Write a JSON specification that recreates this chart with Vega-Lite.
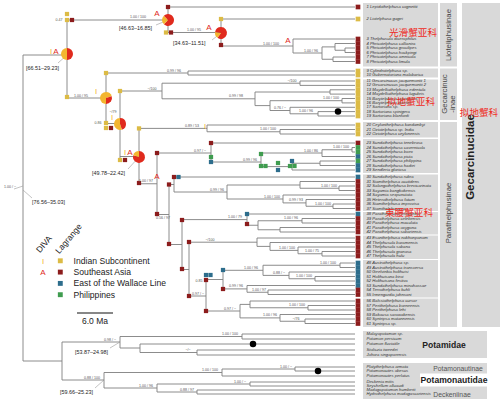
{
"$schema":"https://vega.github.io/schema/vega-lite/v6.json",
"width":500,"height":408,
"autosize":{"type":"fit","contains":"padding"},
"padding":0,
"background":"white",
"config":{"view":{"stroke":null},"font":"Liberation Sans"},
"datasets":{
"panels":[
{"x":363,"x2":438,"y":3,"y2":66.5},{"x":440,"x2":457,"y":3,"y2":66.5},
{"x":363,"x2":438,"y":68.5,"y2":77.5},{"x":363,"x2":438,"y":79.5,"y2":120},{"x":440,"x2":457,"y":68.5,"y2":120},
{"x":363,"x2":438,"y":122,"y2":137.5},{"x":363,"x2":438,"y":139,"y2":173},{"x":363,"x2":438,"y":174.5,"y2":211},
{"x":363,"x2":438,"y":212,"y2":234.5},{"x":363,"x2":438,"y":235.5,"y2":259},{"x":363,"x2":438,"y":260,"y2":297.5},
{"x":363,"x2":438,"y":298.5,"y2":327},{"x":440,"x2":457,"y":122,"y2":327},{"x":462,"x2":500,"y":3,"y2":327},
{"x":363,"x2":487,"y":331,"y2":358},{"x":363,"x2":487,"y":363,"y2":399}],
"white":[{"x":420,"x2":487,"y":373.5,"y2":386.5}],
"h":[
{"x":23,"x2":67,"y":55},{"x":67,"x2":168,"y":20},{"x":168,"x2":355,"y":7},{"x":168,"x2":221,"y":32.5},{"x":221,"x2":355,"y":19},{"x":221,"x2":293,"y":46},{"x":293,"x2":355,"y":39},{"x":293,"x2":322,"y":53},{"x":322,"x2":335,"y":46.9},{"x":335,"x2":355,"y":43.5},{"x":335,"x2":345,"y":50.25},{"x":345,"x2":355,"y":48},{"x":345,"x2":355,"y":52.5},{"x":322,"x2":333,"y":59.25},{"x":333,"x2":355,"y":57},{"x":333,"x2":355,"y":61.5},
{"x":67,"x2":106,"y":98},{"x":106,"x2":188,"y":73},{"x":188,"x2":355,"y":71},{"x":188,"x2":355,"y":75},{"x":106,"x2":120,"y":123.5},{"x":120,"x2":162,"y":91},{"x":162,"x2":300,"y":83.2},{"x":300,"x2":355,"y":81},{"x":300,"x2":355,"y":85.4},{"x":162,"x2":255,"y":98.8},{"x":255,"x2":330,"y":92},{"x":330,"x2":355,"y":89.8},{"x":330,"x2":355,"y":94.1},{"x":255,"x2":270,"y":105.6},{"x":270,"x2":342,"y":100.7},{"x":342,"x2":355,"y":98.5},{"x":342,"x2":355,"y":102.9},{"x":270,"x2":290,"y":110.5},{"x":290,"x2":355,"y":107.3},{"x":290,"x2":318,"y":113.8},{"x":318,"x2":355,"y":111.6},{"x":318,"x2":355,"y":116},
{"x":120,"x2":139,"y":156.5},{"x":139,"x2":207,"y":128.4},{"x":207,"x2":355,"y":125},{"x":207,"x2":280,"y":131.75},{"x":280,"x2":355,"y":129.5},{"x":280,"x2":355,"y":134},
{"x":139,"x2":157,"y":183.75},{"x":157,"x2":211,"y":153},{"x":211,"x2":355,"y":143},{"x":211,"x2":261,"y":162},{"x":261,"x2":322,"y":153},{"x":322,"x2":352,"y":149.75},{"x":352,"x2":355,"y":147.5},{"x":352,"x2":355,"y":152},{"x":322,"x2":355,"y":156.5},{"x":261,"x2":292,"y":166.6},{"x":292,"x2":320,"y":163.25},{"x":320,"x2":355,"y":161},{"x":320,"x2":355,"y":165.5},{"x":292,"x2":355,"y":170},
{"x":157,"x2":169,"y":214.5},{"x":169,"x2":174,"y":184.5},{"x":174,"x2":355,"y":177},{"x":174,"x2":227,"y":192},{"x":227,"x2":300,"y":185},{"x":300,"x2":355,"y":181.5},{"x":300,"x2":339,"y":188.25},{"x":339,"x2":355,"y":186},{"x":339,"x2":355,"y":190.5},{"x":227,"x2":283,"y":199},{"x":283,"x2":355,"y":195},{"x":283,"x2":306,"y":202.9},{"x":306,"x2":355,"y":199.5},{"x":306,"x2":333,"y":206.25},{"x":333,"x2":355,"y":204},{"x":333,"x2":355,"y":208.5},
{"x":169,"x2":182,"y":244.5},{"x":182,"x2":247,"y":219.6},{"x":247,"x2":355,"y":214},{"x":247,"x2":258,"y":225.25},{"x":258,"x2":302,"y":220.75},{"x":302,"x2":355,"y":218.5},{"x":302,"x2":355,"y":223},{"x":258,"x2":280,"y":229.75},{"x":280,"x2":355,"y":227.5},{"x":280,"x2":355,"y":232},
{"x":182,"x2":189,"y":269.5},{"x":189,"x2":257,"y":242.2},{"x":257,"x2":355,"y":238},{"x":257,"x2":270,"y":246.4},{"x":270,"x2":355,"y":242.5},{"x":270,"x2":298,"y":250.4},{"x":298,"x2":355,"y":247},{"x":298,"x2":322,"y":253.75},{"x":322,"x2":355,"y":251.5},{"x":322,"x2":355,"y":256},
{"x":189,"x2":206,"y":296},{"x":206,"x2":223,"y":279.5},{"x":223,"x2":263,"y":270.3},{"x":263,"x2":340,"y":265.25},{"x":340,"x2":355,"y":263},{"x":340,"x2":355,"y":267.5},{"x":263,"x2":289,"y":275.4},{"x":289,"x2":355,"y":272},{"x":289,"x2":315,"y":278.75},{"x":315,"x2":355,"y":276.5},{"x":315,"x2":355,"y":281},{"x":223,"x2":247,"y":288.9},{"x":247,"x2":355,"y":285.5},{"x":247,"x2":268,"y":292.25},{"x":268,"x2":355,"y":290},{"x":268,"x2":355,"y":294.5},
{"x":206,"x2":240,"y":311},{"x":240,"x2":250,"y":304.4},{"x":250,"x2":355,"y":301},{"x":250,"x2":308,"y":307.75},{"x":308,"x2":355,"y":305.5},{"x":308,"x2":355,"y":310},{"x":240,"x2":280,"y":317.9},{"x":280,"x2":355,"y":314.5},{"x":280,"x2":305,"y":321.25},{"x":305,"x2":355,"y":319},{"x":305,"x2":355,"y":323.5},
{"x":23,"x2":62,"y":361},{"x":62,"x2":120,"y":342},{"x":120,"x2":242,"y":336.5},{"x":242,"x2":355,"y":334},{"x":242,"x2":355,"y":339},{"x":120,"x2":140,"y":348},{"x":140,"x2":355,"y":344},{"x":140,"x2":197,"y":352.5},{"x":197,"x2":355,"y":350},{"x":197,"x2":355,"y":355},
{"x":62,"x2":104,"y":380},{"x":104,"x2":222,"y":372.5},{"x":222,"x2":295,"y":369},{"x":295,"x2":355,"y":367},{"x":295,"x2":355,"y":371},{"x":222,"x2":355,"y":376},{"x":104,"x2":157,"y":388},{"x":157,"x2":250,"y":384},{"x":250,"x2":355,"y":382},{"x":250,"x2":355,"y":386},{"x":157,"x2":197,"y":392},{"x":197,"x2":355,"y":390},{"x":197,"x2":355,"y":394}],
"v":[
{"x":23,"y":55,"y2":361},{"x":67,"y":20,"y2":98},{"x":168,"y":7,"y2":32.5},{"x":221,"y":19,"y2":46},{"x":293,"y":39,"y2":53},{"x":322,"y":46.9,"y2":59.25},{"x":335,"y":43.5,"y2":50.25},{"x":345,"y":48,"y2":52.5},{"x":333,"y":57,"y2":61.5},
{"x":106,"y":73,"y2":123.5},{"x":188,"y":71,"y2":75},{"x":120,"y":91,"y2":160},{"x":162,"y":83.2,"y2":98.8},{"x":300,"y":81,"y2":85.4},{"x":255,"y":92,"y2":105.6},{"x":330,"y":89.8,"y2":94.1},{"x":270,"y":100.7,"y2":110.5},{"x":342,"y":98.5,"y2":102.9},{"x":290,"y":107.3,"y2":113.8},{"x":318,"y":111.6,"y2":116},
{"x":139,"y":128.4,"y2":183.75},{"x":207,"y":125,"y2":131.75},{"x":280,"y":129.5,"y2":134},
{"x":157,"y":153,"y2":214.5},{"x":211,"y":143,"y2":162},{"x":261,"y":153,"y2":166.6},{"x":322,"y":149.75,"y2":156.5},{"x":352,"y":147.5,"y2":152},{"x":292,"y":163.25,"y2":170},{"x":320,"y":161,"y2":165.5},
{"x":169,"y":184.5,"y2":244.5},{"x":174,"y":177,"y2":192},{"x":227,"y":185,"y2":199},{"x":300,"y":181.5,"y2":188.25},{"x":339,"y":186,"y2":190.5},{"x":283,"y":195,"y2":202.9},{"x":306,"y":199.5,"y2":206.25},{"x":333,"y":204,"y2":208.5},
{"x":182,"y":219.6,"y2":269.5},{"x":247,"y":214,"y2":225.25},{"x":258,"y":220.75,"y2":229.75},{"x":302,"y":218.5,"y2":223},{"x":280,"y":227.5,"y2":232},
{"x":189,"y":242.2,"y2":296},{"x":257,"y":238,"y2":246.4},{"x":270,"y":242.5,"y2":250.4},{"x":298,"y":247,"y2":253.75},{"x":322,"y":251.5,"y2":256},
{"x":206,"y":279.5,"y2":311},{"x":223,"y":270.3,"y2":288.9},{"x":263,"y":265.25,"y2":275.4},{"x":340,"y":263,"y2":267.5},{"x":289,"y":272,"y2":278.75},{"x":315,"y":276.5,"y2":281},{"x":247,"y":285.5,"y2":292.25},{"x":268,"y":290,"y2":294.5},
{"x":240,"y":304.4,"y2":317.9},{"x":250,"y":301,"y2":307.75},{"x":308,"y":305.5,"y2":310},{"x":280,"y":314.5,"y2":321.25},{"x":305,"y":319,"y2":323.5},
{"x":62,"y":342,"y2":380},{"x":120,"y":336.5,"y2":348},{"x":242,"y":334,"y2":339},{"x":140,"y":344,"y2":352.5},{"x":197,"y":350,"y2":355},
{"x":104,"y":372.5,"y2":388},{"x":222,"y":369,"y2":376},{"x":295,"y":367,"y2":371},{"x":157,"y":384,"y2":392},{"x":250,"y":382,"y2":386},{"x":197,"y":390,"y2":394}],
"lead":[{"x":67,"x2":58,"y":55,"y2":63},{"x":168,"x2":156,"y":20,"y2":25},{"x":221,"x2":212,"y":33,"y2":40},{"x":139,"x2":128,"y":157,"y2":169},{"x":23,"x2":32,"y":190,"y2":198},{"x":120,"x2":110,"y":342,"y2":348},{"x":104,"x2":95,"y":380,"y2":388},{"x":23,"x2":14,"y":186,"y2":189}],
"tips":[
{"t":"1  Lepidothelphusa cognettii","y":7,"c":"S"},{"t":"2  Liotelphusa gagei","y":19,"c":"I"},{"t":"3  Thelphusula dicerophilus","y":39,"c":"S"},{"t":"4  Phricotelphusa callianira","y":43.5,"c":"S"},{"t":"5  Phricotelphusa gracilipes","y":48,"c":"S"},{"t":"6  Phricotelphusa hockpingi","y":52.5,"c":"S"},{"t":"7  Phricotelphusa amnicola","y":57,"c":"S"},{"t":"8  Phricotelphusa limula","y":61.5,"c":"S"},
{"t":"9  Cylindrotelphusa sp.","y":71,"c":"I"},{"t":"10 Gubernatoriana malabarica","y":75,"c":"I"},{"t":"11 Gecarcinucus jacquemontii 1","y":81,"c":"I"},{"t":"12 Gecarcinucus jacquemontii 2","y":85.4,"c":"I"},{"t":"13 Maydelliathelphusa edentula","y":89.8,"c":"I"},{"t":"14 Maydelliathelphusa lugubris","y":94.1,"c":"I"},{"t":"15 Barytelphusa cunicularis","y":98.5,"c":"I"},{"t":"16 Barytelphusa guerini","y":102.9,"c":"I"},{"t":"17 Sartoriana sp.","y":107.3,"c":"I"},{"t":"18 Sartoriana spinigera","y":111.6,"c":"I"},{"t":"19 Sartoriana blanfordi","y":116,"c":"I"},
{"t":"20 Ceylonthelphusa kandambyi","y":125,"c":"I"},{"t":"21 Oziotelphusa sp. India","y":129.5,"c":"I"},{"t":"22 Oziotelphusa ceylonensis","y":134,"c":"I"},
{"t":"23 Sundathelphusa tenebrosa","y":143,"c":"S"},{"t":"24 Sundathelphusa cavernicola","y":147.5,"c":"P"},{"t":"25 Sundathelphusa boex","y":152,"c":"P"},{"t":"26 Sundathelphusa picta","y":156.5,"c":"W"},{"t":"27 Sundathelphusa philippina","y":161,"c":"P"},{"t":"28 Sundathelphusa hadiei","y":165.5,"c":"W"},{"t":"29 Sendleria gloriosa","y":170,"c":"W"},
{"t":"30 Sundathelphusa rubra","y":177,"c":"W"},{"t":"31 Siamthelphusa acutidens","y":181.5,"c":"S"},{"t":"32 Salangathelphusa brevicarinata","y":186,"c":"S"},{"t":"33 Sayamia bangkokensis","y":190.5,"c":"S"},{"t":"34 Sayamia sexpunctata","y":195,"c":"S"},{"t":"35 Heterothelphusa fatum","y":199.5,"c":"S"},{"t":"36 Siamthelphusa improvisa","y":204,"c":"S"},{"t":"37 Siamthelphusa sp.","y":208.5,"c":"S"},
{"t":"38 Parathelphusa ferruginea","y":214,"c":"W"},{"t":"39 Parathelphusa celebensis","y":218.5,"c":"S"},{"t":"40 Parathelphusa maculata","y":223,"c":"S"},{"t":"41 Parathelphusa oxygona","y":227.5,"c":"S"},{"t":"42 Parathelphusa sabariensis","y":232,"c":"S"},
{"t":"43 Esanthelphusa nakhonpanom","y":238,"c":"S"},{"t":"44 Thelphusula baramensis","y":242.5,"c":"S"},{"t":"45 Thelphusula sabana","y":247,"c":"S"},{"t":"46 Thelphusula granosa","y":251.5,"c":"S"},{"t":"47 Thelphusula hulu","y":256,"c":"S"},
{"t":"48 Austrothelphusa sp.","y":263,"c":"W"},{"t":"49 Austrothelphusa transversa","y":267.5,"c":"W"},{"t":"50 Geelvinkia holthuisi","y":272,"c":"W"},{"t":"51 Holthuisana biroi","y":276.5,"c":"W"},{"t":"52 Holthuisana festiva","y":281,"c":"W"},{"t":"53 Sundathelphusa minahassae","y":285.5,"c":"W"},{"t":"54 Terrathelphusa kuhli","y":290,"c":"S"},{"t":"55 Irmengardia johnsoni","y":294.5,"c":"S"},
{"t":"56 Balssiathelphusa cursor","y":301,"c":"S"},{"t":"57 Perithelphusa borneensis","y":305.5,"c":"S"},{"t":"58 Perithelphusa lehi","y":310,"c":"S"},{"t":"59 Bakousa sarawakensis","y":314.5,"c":"S"},{"t":"60 Syntripsa matannensis","y":319,"c":"S"},{"t":"61 Syntripsa sp.","y":323.5,"c":"S"},
{"t":"Malayopotamon sp.","y":334},{"t":"Potamon persicum","y":339},{"t":"Potamon fluviatile","y":344},{"t":"Stoliczia tweedei","y":350},{"t":"Johora singaporensis","y":355},
{"t":"Platythelphusa armata","y":367},{"t":"Potamonautes obesus","y":371},{"t":"Potamonautes perlatus","y":376},
{"t":"Deckenia mitis","y":382},{"t":"Seychellum alluaudi","y":386},{"t":"Madagapotamon humberti","y":390},{"t":"Hydrothelphusa madagascariensis","y":394}],
"nsq":[
{"x":67,"y":14,"c":"I"},{"x":67,"y":20,"c":"I"},{"x":72,"y":20,"c":"S"},{"x":168,"y":7,"c":"S"},{"x":166,"y":32.5,"c":"I"},{"x":171,"y":32.5,"c":"S"},{"x":221,"y":19,"c":"I"},{"x":221,"y":45,"c":"S"},
{"x":67,"y":97,"c":"I"},{"x":106,"y":73,"c":"I"},{"x":106,"y":123,"c":"I"},{"x":106,"y":128,"c":"I"},{"x":111,"y":128,"c":"S"},{"x":120,"y":91,"c":"I"},{"x":139,"y":128.4,"c":"I"},{"x":120,"y":160,"c":"I"},{"x":125,"y":160,"c":"S"},
{"x":139,"y":183,"c":"S"},{"x":157,"y":153,"c":"S"},{"x":157,"y":214,"c":"S"},{"x":169,"y":184.5,"c":"S"},{"x":174,"y":177,"c":"S"},{"x":178.5,"y":177,"c":"W"},{"x":169,"y":244,"c":"S"},
{"x":182,"y":220,"c":"S"},{"x":247,"y":214,"c":"W"},{"x":247,"y":224,"c":"S"},{"x":189,"y":242,"c":"S"},{"x":182,"y":269,"c":"S"},{"x":206,"y":280,"c":"S"},{"x":206,"y":275,"c":"W"},{"x":210.5,"y":275,"c":"W"},
{"x":189,"y":296,"c":"S"},{"x":206,"y":311,"c":"S"},{"x":223,"y":270,"c":"W"},{"x":223,"y":289,"c":"S"},{"x":211,"y":143,"c":"S"},{"x":211,"y":157,"c":"P"},{"x":211,"y":162,"c":"W"},
{"x":261,"y":154,"c":"P"},{"x":261,"y":166,"c":"P"},{"x":265.5,"y":166,"c":"P"},{"x":278,"y":163,"c":"P"},{"x":292,"y":161,"c":"W"},{"x":278,"y":170,"c":"W"},{"x":290,"y":166,"c":"P"},{"x":294.5,"y":166,"c":"P"}],
"pies":[
{"x":67,"y":54,"c":"A","t1":0,"t2":0.5},{"x":67,"y":54,"c":"I","t1":0.5,"t2":1},
{"x":168,"y":20,"c":"A","t1":0,"t2":0.62},{"x":168,"y":20,"c":"I","t1":0.62,"t2":0.88},{"x":168,"y":20,"c":"A","t1":0.88,"t2":1},
{"x":221,"y":33,"c":"A","t1":0,"t2":0.6},{"x":221,"y":33,"c":"I","t1":0.6,"t2":0.78},{"x":221,"y":33,"c":"A","t1":0.78,"t2":1},
{"x":106,"y":98,"c":"I","t1":0,"t2":0.2},{"x":106,"y":98,"c":"A","t1":0.2,"t2":0.5},{"x":106,"y":98,"c":"I","t1":0.5,"t2":1},
{"x":120,"y":124,"c":"A","t1":0,"t2":0.45},{"x":120,"y":124,"c":"I","t1":0.45,"t2":1},
{"x":139,"y":157,"c":"A","t1":0,"t2":0.8},{"x":139,"y":157,"c":"I","t1":0.8,"t2":1}],
"letters":[
{"t":"I","x":51,"y":52,"c":"I"},{"t":"A","x":56,"y":52,"c":"A"},{"t":"A","x":157,"y":14,"c":"A"},{"t":"A","x":209,"y":28,"c":"A"},{"t":"A","x":288,"y":41,"c":"A"},{"t":"I","x":96,"y":92,"c":"I"},{"t":"I","x":112,"y":118,"c":"I"},{"t":"I","x":125,"y":153,"c":"I"},{"t":"A","x":130,"y":153,"c":"A"},{"t":"A","x":157,"y":177,"c":"A"},{"t":"I","x":205,"y":127,"c":"I"},{"t":"I","x":43,"y":262,"c":"I"},{"t":"A","x":43,"y":273,"c":"A"}],
"sup":[
{"t":"0.47","x":59,"y":20},{"t":"1.00 / 100","x":138,"y":17},{"t":"1.00 / 95","x":194,"y":30},{"t":"1.00 / 100","x":271,"y":43.5},{"t":"1.00 / 96","x":311,"y":50.5},{"t":"0.99 / 96","x":174,"y":70.5},{"t":"1.00 / 95","x":81,"y":95.5},{"t":"\u2212/100","x":152,"y":88.5},{"t":"\u2212/79","x":113,"y":112},{"t":"0.86","x":98,"y":123},
{"t":"0.99 / 98","x":236,"y":96.3},{"t":"\u2212/100","x":292,"y":80.7},{"t":"1.00 / 100","x":331,"y":98.2},{"t":"1.00 / 96","x":306,"y":111.3},{"t":"0.76 / \u2212","x":280,"y":108},{"t":"0.89 / 53","x":192,"y":126},{"t":"1.00 / 100","x":268,"y":129.3},{"t":"1.00 / 97","x":146,"y":181.3},
{"t":"0.97 / \u2212","x":200,"y":150.5},{"t":"0.99 / 96","x":250,"y":159.5},{"t":"1.00 / 100","x":341,"y":147.3},{"t":"1.00 / 86","x":311,"y":150.5},{"t":"0.99 / 96","x":217,"y":189.5},{"t":"1.00 / 100","x":329,"y":185.8},{"t":"1.00 / 100","x":272,"y":196.5},{"t":"0.99 / 93","x":296,"y":200.4},{"t":"1.00 / 100","x":323,"y":203.8},{"t":"0.56 / 97","x":163,"y":218},
{"t":"1.00 / 79","x":235,"y":217.1},{"t":"1.00 / 96","x":291,"y":218.3},{"t":"\u2212/100","x":210,"y":239.7},{"t":"1.00 / 100","x":287,"y":247.9},{"t":"1.00 / 75","x":312,"y":251.3},{"t":"1.00 / 96","x":251,"y":267.8},{"t":"1.00 / 100","x":328,"y":262.8},{"t":"0.88 / \u2212","x":279,"y":272.9},{"t":"1.00 / 100","x":304,"y":276.3},
{"t":"0.99 / 96","x":236,"y":286.4},{"t":"1.00 / 97","x":259,"y":289.8},{"t":"0.97 / \u2212","x":198,"y":293.5},{"t":"0.85","x":199,"y":281},{"t":"0.97 / \u2212","x":230,"y":308.5},{"t":"1.00 / 100","x":297,"y":305.3},{"t":"1.00 / 96","x":270,"y":315.4},{"t":"\u2212/76","x":296,"y":318.8},
{"t":"1.00 / \u2212","x":10,"y":187},{"t":"0.98 / \u2212","x":110,"y":339.5},{"t":"1.00 / 100","x":230,"y":334},{"t":"\u2212/\u2212","x":188,"y":350},{"t":"0.88 / 100","x":92,"y":377.5},{"t":"1.00 / 100","x":210,"y":370},{"t":"1.00 / \u2212","x":286,"y":366.5},{"t":"1.00 / 96","x":146,"y":385.5},{"t":"1.00 / \u2212","x":240,"y":381.5},{"t":"0.88 / 97","x":187,"y":389.5}],
"hpd":[{"t":"[66.51\u201329.23]","x":26,"y":68},{"t":"[46.63\u201316.85]","x":119,"y":28},{"t":"[34.63\u201311.51]","x":173,"y":43},{"t":"[49.78\u201322.42]","x":92,"y":173},{"t":"[76.56\u201335.03]","x":32,"y":202},{"t":"[53.87\u201324.98]","x":75,"y":352},{"t":"[59.66\u201325.23]","x":60,"y":392}],
"dots":[{"x":338,"y":111.6},{"x":253,"y":344},{"x":318,"y":371}],
"rot":[{"t":"Lioteliphusinae","x":448.5,"y":35},{"t":"Gecarcinuc","x":444.5,"y":94},{"t":"-inae","x":453,"y":104},{"t":"Parathelphusinae","x":448.5,"y":213}],
"fam":[{"t":"Potamidae","x":444,"y":345,"s":"b"},{"t":"Potamonautidae","x":454,"y":380,"s":"b"},{"t":"Potamonautinae","x":458,"y":368.5,"s":"n"},{"t":"Deckeniinae","x":452,"y":394.5,"s":"n"}],
"cn":[{"t":"\u5149\u6ed1\u87f9\u4e9a\u79d1","x":413,"y":33},{"t":"\u62df\u5730\u87f9\u4e9a\u79d1","x":411,"y":102},{"t":"\u675f\u8170\u87f9\u4e9a\u79d1","x":409,"y":213},{"t":"\u62df\u5730\u87f9\u79d1","x":479,"y":113}],
"legt":[{"t":"DIVA","x":44,"y":244},{"t":"Lagrange","x":68.5,"y":238.5}],
"scale":[{"x":77,"x2":113,"y":313}],
"scalet":[{"t":"6.0 Ma","x":95,"y":321}]
},
"layer":[
{"data":{"name":"panels"},"mark":{"type":"rect","color":"#d9d9d9"},"encoding":{
 "x":{"field":"x","type":"quantitative","scale":{"domain":[0,500],"nice":false,"zero":false},"axis":null},
 "y":{"field":"y","type":"quantitative","scale":{"domain":[0,408],"nice":false,"zero":false,"reverse":true},"axis":null},
 "x2":{"field":"x2"},"y2":{"field":"y2"}}},
{"data":{"name":"white"},"mark":{"type":"rect","color":"#ffffff"},"encoding":{
 "x":{"field":"x","type":"quantitative","scale":{"domain":[0,500],"nice":false,"zero":false},"axis":null},
 "y":{"field":"y","type":"quantitative","scale":{"domain":[0,408],"nice":false,"zero":false,"reverse":true},"axis":null},
 "x2":{"field":"x2"},"y2":{"field":"y2"}}},
{"data":{"name":"h"},"mark":{"type":"rule","color":"#7f7f7f","strokeWidth":0.9},"encoding":{
 "x":{"field":"x","type":"quantitative","scale":{"domain":[0,500],"nice":false,"zero":false},"axis":null},
 "y":{"field":"y","type":"quantitative","scale":{"domain":[0,408],"nice":false,"zero":false,"reverse":true},"axis":null},
 "x2":{"field":"x2"}}},
{"data":{"name":"v"},"mark":{"type":"rule","color":"#7f7f7f","strokeWidth":0.9},"encoding":{
 "x":{"field":"x","type":"quantitative","scale":{"domain":[0,500],"nice":false,"zero":false},"axis":null},
 "y":{"field":"y","type":"quantitative","scale":{"domain":[0,408],"nice":false,"zero":false,"reverse":true},"axis":null},
 "y2":{"field":"y2"}}},
{"data":{"name":"lead"},"mark":{"type":"rule","color":"#9a9a9a","strokeWidth":0.6},"encoding":{
 "x":{"field":"x","type":"quantitative","scale":{"domain":[0,500],"nice":false,"zero":false},"axis":null},
 "y":{"field":"y","type":"quantitative","scale":{"domain":[0,408],"nice":false,"zero":false,"reverse":true},"axis":null},
 "x2":{"field":"x2"},"y2":{"field":"y2"}}},
{"data":{"name":"scale"},"mark":{"type":"rule","color":"#111111","strokeWidth":1.2},"encoding":{
 "x":{"field":"x","type":"quantitative","scale":{"domain":[0,500],"nice":false,"zero":false},"axis":null},
 "y":{"field":"y","type":"quantitative","scale":{"domain":[0,408],"nice":false,"zero":false,"reverse":true},"axis":null},
 "x2":{"field":"x2"}}},
{"data":{"name":"dots"},"mark":{"type":"circle","color":"#000000","size":42,"opacity":1},"encoding":{
 "x":{"field":"x","type":"quantitative","scale":{"domain":[0,500],"nice":false,"zero":false},"axis":null},
 "y":{"field":"y","type":"quantitative","scale":{"domain":[0,408],"nice":false,"zero":false,"reverse":true},"axis":null}}},
{"data":{"name":"tips"},"transform":[{"filter":"isValid(datum.c)"}],"mark":{"type":"square","size":22,"opacity":1},
 "encoding":{
  "x":{"datum":358,"type":"quantitative","scale":{"domain":[0,500],"nice":false,"zero":false},"axis":null},
  "y":{"field":"y","type":"quantitative","scale":{"domain":[0,408],"nice":false,"zero":false,"reverse":true},"axis":null},
  "color":{"field":"c","type":"nominal","scale":{"domain":["I","S","W","P"],"range":["#dcbb45","#8c1c1c","#2d6d8c","#3f9c4f"]},
   "legend":{"orient":"none","legendX":56,"legendY":256.5,"title":null,"symbolType":"square","symbolSize":24,"symbolStrokeWidth":0,"labelFont":"Liberation Sans","labelFontSize":8.6,"labelColor":"#222222","labelOffset":9,"rowPadding":2.3,"labelExpr":"datum.value=='I'?'Indian Subcontinent':datum.value=='S'?'Southeast Asia':datum.value=='W'?'East of the Wallace Line':'Philippines'"}}}},
{"data":{"name":"nsq"},"mark":{"type":"square","size":18,"opacity":1},
 "encoding":{
  "x":{"field":"x","type":"quantitative","scale":{"domain":[0,500],"nice":false,"zero":false},"axis":null},
  "y":{"field":"y","type":"quantitative","scale":{"domain":[0,408],"nice":false,"zero":false,"reverse":true},"axis":null},
  "color":{"field":"c","type":"nominal","scale":{"domain":["I","S","W","P"],"range":["#dcbb45","#8c1c1c","#2d6d8c","#3f9c4f"]},
   "legend":{"orient":"none","legendX":56,"legendY":256.5,"title":null,"symbolType":"square","symbolSize":24,"symbolStrokeWidth":0,"labelFont":"Liberation Sans","labelFontSize":8.6,"labelColor":"#222222","labelOffset":9,"rowPadding":2.3,"labelExpr":"datum.value=='I'?'Indian Subcontinent':datum.value=='S'?'Southeast Asia':datum.value=='W'?'East of the Wallace Line':'Philippines'"}}}},
{"data":{"name":"pies"},"mark":{"type":"arc","radius":6},
 "encoding":{
  "x":{"field":"x","type":"quantitative","scale":{"domain":[0,500],"nice":false,"zero":false},"axis":null},
  "y":{"field":"y","type":"quantitative","scale":{"domain":[0,408],"nice":false,"zero":false,"reverse":true},"axis":null},
  "theta":{"field":"t1","type":"quantitative","stack":null,"scale":{"domain":[0,1],"range":[0,6.2832]}},"theta2":{"field":"t2"},
  "fill":{"field":"c","type":"nominal","scale":{"domain":["I","A"],"range":["#f3b630","#e02a1d"]},"legend":null}}},
{"data":{"name":"letters"},"mark":{"type":"text","fontSize":8,"baseline":"middle","align":"center"},
 "encoding":{
  "x":{"field":"x","type":"quantitative","scale":{"domain":[0,500],"nice":false,"zero":false},"axis":null},
  "y":{"field":"y","type":"quantitative","scale":{"domain":[0,408],"nice":false,"zero":false,"reverse":true},"axis":null},
  "text":{"field":"t"},"fill":{"field":"c","type":"nominal","scale":{"domain":["I","A"],"range":["#f3b630","#e02a1d"]},"legend":null}}},
{"data":{"name":"sup"},"mark":{"type":"text","fontSize":3.6,"color":"#555555","baseline":"middle","align":"center"},"encoding":{
 "x":{"field":"x","type":"quantitative","scale":{"domain":[0,500],"nice":false,"zero":false},"axis":null},
 "y":{"field":"y","type":"quantitative","scale":{"domain":[0,408],"nice":false,"zero":false,"reverse":true},"axis":null},
 "text":{"field":"t"}}},
{"data":{"name":"hpd"},"mark":{"type":"text","fontSize":5.4,"color":"#222222","baseline":"middle","align":"left"},"encoding":{
 "x":{"field":"x","type":"quantitative","scale":{"domain":[0,500],"nice":false,"zero":false},"axis":null},
 "y":{"field":"y","type":"quantitative","scale":{"domain":[0,408],"nice":false,"zero":false,"reverse":true},"axis":null},
 "text":{"field":"t"}}},
{"data":{"name":"tips"},"mark":{"type":"text","fontSize":4.2,"fontStyle":"italic","color":"#333333","baseline":"middle","align":"left"},
 "encoding":{
  "x":{"datum":366.5,"type":"quantitative","scale":{"domain":[0,500],"nice":false,"zero":false},"axis":null},
  "y":{"field":"y","type":"quantitative","scale":{"domain":[0,408],"nice":false,"zero":false,"reverse":true},"axis":null},
  "text":{"field":"t"}}},
{"data":{"name":"rot"},"mark":{"type":"text","fontSize":7.8,"angle":270,"color":"#444444","baseline":"middle","align":"center"},"encoding":{
 "x":{"field":"x","type":"quantitative","scale":{"domain":[0,500],"nice":false,"zero":false},"axis":null},
 "y":{"field":"y","type":"quantitative","scale":{"domain":[0,408],"nice":false,"zero":false,"reverse":true},"axis":null},
 "text":{"field":"t"}}},
{"data":{"values":[{"t":"Gecarcinucidae","x":471,"y":157}]},"mark":{"type":"text","fontSize":11.5,"fontWeight":"bold","angle":270,"color":"#222222","baseline":"middle","align":"center"},"encoding":{
 "x":{"field":"x","type":"quantitative","scale":{"domain":[0,500],"nice":false,"zero":false},"axis":null},
 "y":{"field":"y","type":"quantitative","scale":{"domain":[0,408],"nice":false,"zero":false,"reverse":true},"axis":null},
 "text":{"field":"t"}}},
{"data":{"name":"fam"},"transform":[{"filter":"datum.s=='b'"}],"mark":{"type":"text","fontSize":8.6,"fontWeight":"bold","color":"#222222","baseline":"middle","align":"center"},"encoding":{
 "x":{"field":"x","type":"quantitative","scale":{"domain":[0,500],"nice":false,"zero":false},"axis":null},
 "y":{"field":"y","type":"quantitative","scale":{"domain":[0,408],"nice":false,"zero":false,"reverse":true},"axis":null},
 "text":{"field":"t"}}},
{"data":{"name":"fam"},"transform":[{"filter":"datum.s=='n'"}],"mark":{"type":"text","fontSize":6.8,"color":"#555555","baseline":"middle","align":"center"},"encoding":{
 "x":{"field":"x","type":"quantitative","scale":{"domain":[0,500],"nice":false,"zero":false},"axis":null},
 "y":{"field":"y","type":"quantitative","scale":{"domain":[0,408],"nice":false,"zero":false,"reverse":true},"axis":null},
 "text":{"field":"t"}}},
{"data":{"name":"cn"},"mark":{"type":"text","font":"Noto Sans CJK SC","fontSize":9.6,"color":"#ee2b25","baseline":"middle","align":"center","clip":true},"encoding":{
 "x":{"field":"x","type":"quantitative","scale":{"domain":[0,500],"nice":false,"zero":false},"axis":null},
 "y":{"field":"y","type":"quantitative","scale":{"domain":[0,408],"nice":false,"zero":false,"reverse":true},"axis":null},
 "text":{"field":"t"}}},
{"data":{"name":"legt"},"mark":{"type":"text","fontSize":8.5,"angle":310,"color":"#222222","baseline":"middle","align":"center"},"encoding":{
 "x":{"field":"x","type":"quantitative","scale":{"domain":[0,500],"nice":false,"zero":false},"axis":null},
 "y":{"field":"y","type":"quantitative","scale":{"domain":[0,408],"nice":false,"zero":false,"reverse":true},"axis":null},
 "text":{"field":"t"}}},
{"data":{"name":"scalet"},"mark":{"type":"text","fontSize":8.5,"color":"#222222","baseline":"middle","align":"center"},"encoding":{
 "x":{"field":"x","type":"quantitative","scale":{"domain":[0,500],"nice":false,"zero":false},"axis":null},
 "y":{"field":"y","type":"quantitative","scale":{"domain":[0,408],"nice":false,"zero":false,"reverse":true},"axis":null},
 "text":{"field":"t"}}}
]
}
